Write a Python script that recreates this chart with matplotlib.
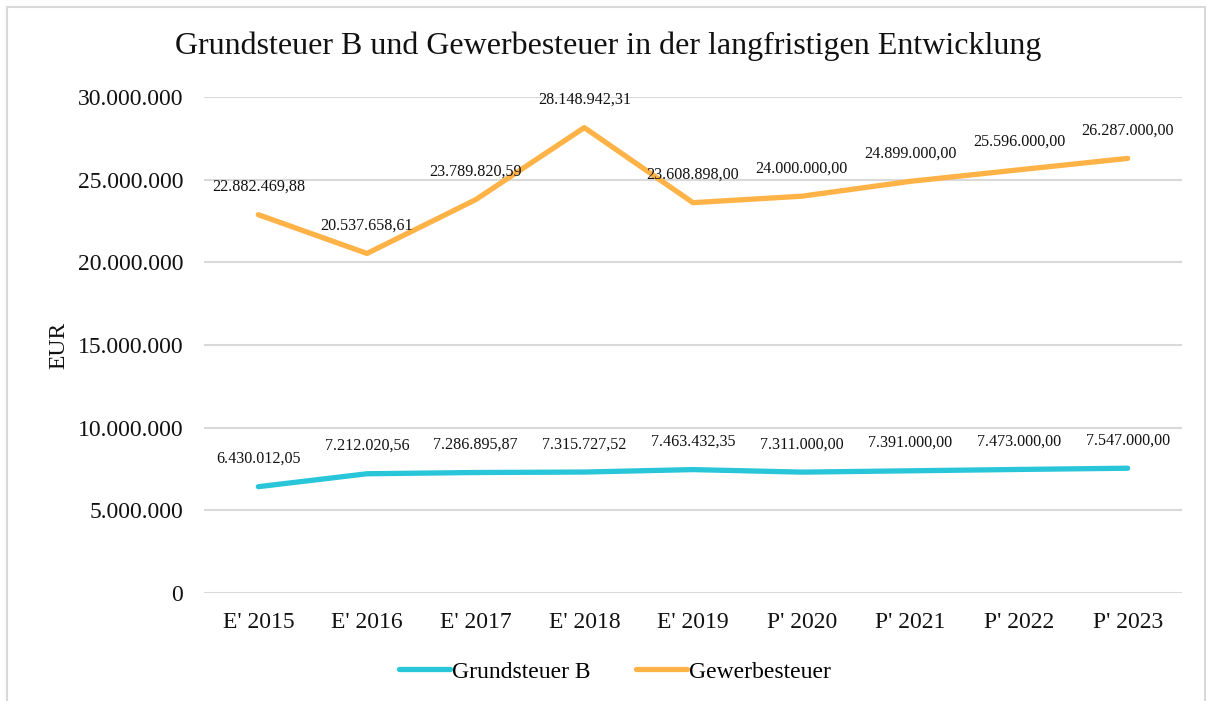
import numpy as np
import matplotlib
matplotlib.use("Agg")
import matplotlib.pyplot as plt
from matplotlib.ticker import FuncFormatter, MultipleLocator
from matplotlib.patches import Rectangle

# data
years = ["E' 2015", "E' 2016", "E' 2017", "E' 2018", "E' 2019",
         "P' 2020", "P' 2021", "P' 2022", "P' 2023"]
grundsteuer_b = [6430012.05, 7212020.56, 7286895.87, 7315727.52, 7463432.35,
                 7311000.00, 7391000.00, 7473000.00, 7547000.00]
gewerbesteuer = [22882469.88, 20537658.61, 23789820.59, 28148942.31, 23608898.00,
                 24000000.00, 24899000.00, 25596000.00, 26287000.00]


def de_num(v, dec=0):
    s = f"{v:,.{dec}f}"
    return s.replace(",", "X").replace(".", ",").replace("X", ".")


plt.rcParams['font.family'] = ['Liberation Serif', 'DejaVu Serif']

fig = plt.figure(figsize=(12.06, 7.01), dpi=100)
ax = fig.add_axes([204 / 1206, 1 - 593 / 701, (1182 - 204) / 1206, (593 - 97) / 701])

x = np.arange(len(years))
ax.plot(x, grundsteuer_b, color="#29C6DA", lw=3.8, solid_capstyle="round",
        solid_joinstyle="round", label="Grundsteuer B", zorder=3)
ax.plot(x, gewerbesteuer, color="#FFB347", lw=3.8, solid_capstyle="round",
        solid_joinstyle="round", label="Gewerbesteuer", zorder=3)

for xi, v in zip(x, grundsteuer_b):
    ax.annotate(de_num(v, 2), (xi, v), xytext=(0, 20), textcoords="offset points",
                ha="center", va="center", fontsize=11.6, color="#111111")
for xi, v in zip(x, gewerbesteuer):
    ax.annotate(de_num(v, 2), (xi, v), xytext=(0, 20), textcoords="offset points",
                ha="center", va="center", fontsize=11.6, color="#111111")

ax.set_xlim(-0.5, len(years) - 0.5)
ax.set_ylim(0, 30000000)
ax.yaxis.set_major_locator(MultipleLocator(5000000))
ax.yaxis.set_major_formatter(FuncFormatter(lambda v, p: de_num(v)))
ax.set_xticks(x)
ax.set_xticklabels(years)
ax.tick_params(length=0, labelsize=17, colors="#111111")
ax.tick_params(axis="y", pad=15)
ax.tick_params(axis="x", pad=14)
ax.grid(axis="y", color="#D9D9D9", lw=1.5)
ax.set_axisbelow(True)
for s in ax.spines.values():
    s.set_visible(False)

ax.set_ylabel("EUR", fontsize=17, color="#111111", labelpad=6)
fig.text(0.504, 1 - 46 / 701, "Grundsteuer B und Gewerbesteuer in der langfristigen Entwicklung",
         ha="center", va="center", fontsize=23, color="#111111")

fig.legend(loc="center", bbox_to_anchor=(0.51, 1 - 672 / 701), ncol=2, frameon=False,
           fontsize=17, handlelength=2.15, handletextpad=0.1, columnspacing=1.9)

fig.patches.append(Rectangle((7 / 1206, -0.05), 1198 / 1206, 1.05 - 7 / 701,
                             transform=fig.transFigure, fill=False,
                             edgecolor="#D9D9D9", lw=1.5))

fig.savefig("out.png", dpi=100)
